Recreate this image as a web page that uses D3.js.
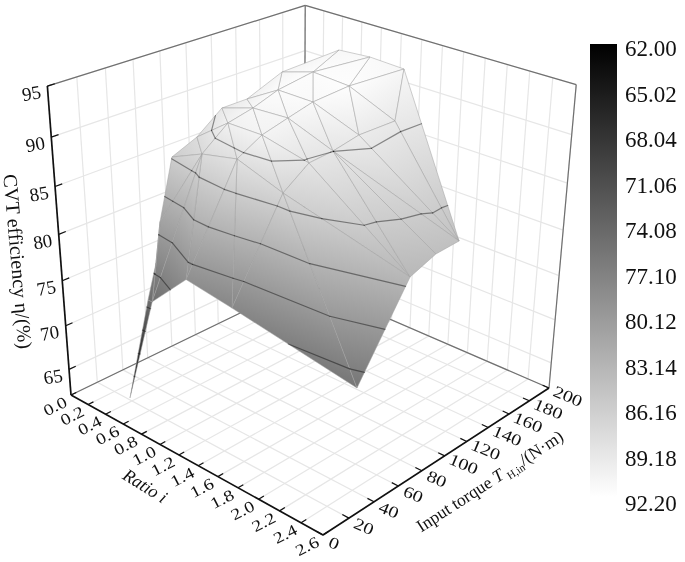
<!DOCTYPE html>
<html>
<head>
<meta charset="utf-8">
<script src="https://cdnjs.cloudflare.com/ajax/libs/d3/7.8.5/d3.min.js"></script>
<style>
  body { margin: 0; background: #fff; }
  svg { display: block; filter: blur(0.45px); }
  text { font-family: "Liberation Serif", serif; fill: #111; }
</style>
</head>
<body>
<div id="graph"></div>
<script>
// axis ticks and legend labels
var ratioTicks = [0, 0.2, 0.4, 0.6, 0.8, 1.0, 1.2, 1.4, 1.6, 1.8, 2.0, 2.2, 2.4, 2.6];
var torqueTicks = [0, 20, 40, 60, 80, 100, 120, 140, 160, 180, 200];
var etaTicks = [65, 70, 75, 80, 85, 90, 95];
var legendValues = [62.00, 65.02, 68.04, 71.06, 74.08, 77.10, 80.12, 83.14, 86.16, 89.18, 92.20];
var contourLevels = [65.02, 68.04, 71.06, 74.08, 77.10, 80.12, 83.14, 86.16, 89.18];

var ratio = [0.377, 0.677, 0.720, 0.609, 0.502, 0.370, 1.064, 0.452, 0.684, 0.389, 0.759, 1.502,
  1.030, 0.502, 0.775, 1.131, 0.731, 0.367, 1.499, 1.064, 1.487, 0.664, 1.041, 1.486,
  0.377, 1.074, 2.654, 1.492, 0.704, 1.476, 1.017, 2.619, 2.603, 2.615];
var torque = [20.2, 17.7, 17.8, 29.3, 40.7, 60.5, 19.4, 74.1, 60.9, 98.6, 75.5, 20.4,
  61.6, 110.1, 93.8, 72.9, 117.3, 149.8, 59.5, 98.5, 80.4, 151.9, 120.5, 99.6,
  199.2, 147.9, 19.2, 120.1, 198.9, 152.2, 202.0, 61.1, 82.9, 100.7];
var efficiency = [62.2, 75.0, 75.0, 77.9, 81.1, 86.3, 78.9, 88.0, 87.8, 89.6, 90.5, 78.0,
  88.6, 90.4, 91.2, 90.8, 91.8, 91.0, 87.2, 91.0, 89.0, 91.9, 91.5, 89.2,
  91.3, 92.0, 76.0, 89.8, 91.6, 89.6, 91.2, 83.8, 84.6, 84.85];

// triangulation of the measured points
var triangles = [
  [0, 1, 2], [1, 2, 3], [2, 3, 4], [2, 4, 8], [4, 5, 8], [5, 7, 8], [2, 6, 8], [6, 8, 12],
  [6, 11, 12], [8, 10, 12], [7, 8, 10], [7, 9, 10], [9, 10, 14], [9, 13, 14], [13, 14, 16],
  [13, 16, 17], [16, 17, 21], [17, 21, 24], [21, 24, 28], [21, 25, 28], [25, 28, 30],
  [21, 22, 25], [16, 21, 22], [16, 19, 22], [14, 16, 19], [14, 15, 19], [10, 14, 15],
  [10, 12, 15], [12, 15, 18], [11, 12, 18], [11, 18, 26], [18, 26, 31], [18, 20, 31],
  [15, 18, 20], [15, 19, 20], [19, 20, 23], [19, 22, 23], [22, 23, 27], [22, 25, 27],
  [25, 27, 29], [25, 29, 30], [29, 30, 33], [27, 29, 33], [23, 27, 33], [23, 32, 33],
  [23, 31, 32], [20, 23, 31]
];

var svg = d3.select("#graph").append("svg")
  .attr("width", 685)
  .attr("height", 562);

// scales into the unit cube, the camera takes it to the page
var iScale = d3.scaleLinear().domain([0, 2.6]).range([0, 1]);
var tScale = d3.scaleLinear().domain([0, 200]).range([0, 1]);
var zScale = d3.scaleLinear().domain([62, 95]).range([0, 1]);
var gray = d3.scaleLinear().domain([62, 92.2]).range(["#000", "#fff"]).clamp(true);

var camera = [
  [211.1315, 277.1672, -28.24554, 71],
  [72.30762, -72.0291, -317.307, 395],
  [-0.1265278, 0.1452869, -0.09716024, 1]
];

function project(i, t, z) {
  var u = iScale(i), v = tScale(t), w = zScale(z);
  var p = camera.map(function(r) { return r[0] * u + r[1] * v + r[2] * w + r[3]; });
  return [p[0] / p[2], p[1] / p[2]];
}

var line3d = d3.line();

function segment(a, b) {
  return line3d([project(a[0], a[1], a[2]), project(b[0], b[1], b[2])]);
}

// walls and floor
var gridLines = [];
torqueTicks.forEach(function(t) {
  gridLines.push([[0, t, 62], [2.6, t, 62]]);
  gridLines.push([[0, t, 62], [0, t, 95]]);
});
ratioTicks.forEach(function(i) {
  gridLines.push([[i, 0, 62], [i, 200, 62]]);
  gridLines.push([[i, 200, 62], [i, 200, 95]]);
});
etaTicks.forEach(function(z) {
  gridLines.push([[0, 0, z], [0, 200, z]]);
  gridLines.push([[0, 200, z], [2.6, 200, z]]);
});

svg.append("g").selectAll("path")
  .data(gridLines)
  .enter().append("path")
  .attr("d", function(d) { return segment(d[0], d[1]); })
  .attr("fill", "none")
  .attr("stroke", "#e6e6e6")
  .attr("stroke-width", 1.2);

var boxEdges = [
  [[0, 0, 62], [0, 200, 62]], [[0, 200, 62], [2.6, 200, 62]], [[0, 200, 62], [0, 200, 95]],
  [[0, 0, 95], [0, 200, 95]], [[0, 200, 95], [2.6, 200, 95]], [[2.6, 200, 62], [2.6, 200, 95]]
];

svg.append("g").selectAll("path")
  .data(boxEdges)
  .enter().append("path")
  .attr("d", function(d) { return segment(d[0], d[1]); })
  .attr("fill", "none")
  .attr("stroke", "#707070")
  .attr("stroke-width", 1.2);

// the surface, far triangles first
var verts = ratio.map(function(r, k) {
  var p = project(r, torque[k], efficiency[k]);
  return { x: p[0], y: p[1], eta: efficiency[k], depth: iScale(r) - tScale(torque[k]) };
});

var order = triangles.slice().sort(function(a, b) {
  return d3.sum(a, function(n) { return verts[n].depth; }) - d3.sum(b, function(n) { return verts[n].depth; });
});

var defs = svg.append("defs");
var surface = svg.append("g");

order.forEach(function(tri, k) {
  var p = tri.map(function(n) { return verts[n]; });
  // eta as a plane over the page, the gradient runs along its slope
  var ux = p[1].x - p[0].x, uy = p[1].y - p[0].y, ue = p[1].eta - p[0].eta;
  var vx = p[2].x - p[0].x, vy = p[2].y - p[0].y, ve = p[2].eta - p[0].eta;
  var det = ux * vy - uy * vx;
  var gx = (ue * vy - ve * uy) / det, gy = (ve * ux - ue * vx) / det;
  var lo = d3.least(p, function(d) { return d.eta; });
  var hi = d3.greatest(p, function(d) { return d.eta; });
  var len = gx * gx + gy * gy || 1;
  var span = hi.eta - lo.eta;
  var grad = defs.append("linearGradient")
    .attr("id", "tri" + k)
    .attr("gradientUnits", "userSpaceOnUse")
    .attr("x1", lo.x).attr("y1", lo.y)
    .attr("x2", lo.x + gx * span / len).attr("y2", lo.y + gy * span / len);
  grad.append("stop").attr("offset", 0).attr("stop-color", gray(lo.eta));
  grad.append("stop").attr("offset", 1).attr("stop-color", gray(hi.eta));
  surface.append("path")
    .attr("d", line3d(p.map(function(d) { return [d.x, d.y]; })) + "Z")
    .attr("fill", "url(#tri" + k + ")")
    .attr("stroke", "rgba(160,160,160,0.5)")
    .attr("stroke-width", 1)
    .attr("stroke-linejoin", "round");
});

// contour lines cut out of each triangle
contourLevels.forEach(function(level) {
  triangles.forEach(function(tri) {
    var hits = [];
    [[0, 1], [1, 2], [2, 0]].forEach(function(e) {
      var a = verts[tri[e[0]]], b = verts[tri[e[1]]];
      if ((a.eta < level) !== (b.eta < level)) {
        var f = (level - a.eta) / (b.eta - a.eta);
        hits.push([a.x + f * (b.x - a.x), a.y + f * (b.y - a.y)]);
      }
    });
    if (hits.length === 2) {
      surface.append("path")
        .attr("d", line3d(hits))
        .attr("fill", "none")
        .attr("stroke", "rgba(0,0,0,0.42)")
        .attr("stroke-width", 1.2)
        .attr("stroke-linecap", "round");
    }
  });
});

// axes
var axes = svg.append("g").attr("stroke", "#111").attr("fill", "none");
axes.append("path").attr("d", segment([0, 0, 62], [0, 0, 95])).attr("stroke-width", 1.7);
axes.append("path").attr("d", segment([0, 0, 62], [2.6, 0, 62])).attr("stroke-width", 1.7);
axes.append("path").attr("d", segment([2.6, 0, 62], [2.6, 200, 62])).attr("stroke-width", 1.7);

etaTicks.forEach(function(z) {
  axes.append("path").attr("d", segment([0, 0, z], [0, 5, z])).attr("stroke-width", 1.2);
  var p = project(0, 0, z);
  svg.append("text")
    .attr("transform", "translate(" + (p[0] - 16) + "," + (p[1] + 7) + ") rotate(-10)")
    .attr("text-anchor", "middle")
    .attr("dy", "0.35em")
    .style("font-size", "19px")
    .text(z);
});

// labels on the floor look squashed, they lie in its plane
ratioTicks.forEach(function(i) {
  axes.append("path").attr("d", segment([i, 0, 62], [i, 4, 62])).attr("stroke-width", 1.2);
  var p = project(i, 0, 62);
  svg.append("text")
    .attr("transform", "translate(" + (p[0] - 16) + "," + (p[1] + 11) + ") rotate(-27) scale(1,0.82)")
    .attr("text-anchor", "middle")
    .attr("dy", "0.35em")
    .style("font-size", "19.5px")
    .text(i.toFixed(1));
});

torqueTicks.forEach(function(t) {
  axes.append("path").attr("d", segment([2.6, t, 62], [2.54, t, 62])).attr("stroke-width", 1.2);
  var p = project(2.6, t, 62);
  var off = t === 0 ? 11 : t < 100 ? 15 : 19;
  svg.append("text")
    .attr("transform", "translate(" + (p[0] + off) + "," + (p[1] + 8) + ") rotate(23) scale(1,0.82)")
    .attr("text-anchor", "middle")
    .attr("dy", "0.35em")
    .style("font-size", "20px")
    .text(t);
});

// axis titles
svg.append("text")
  .attr("transform", "translate(11,262) rotate(85)")
  .attr("text-anchor", "middle")
  .style("font-size", "20px")
  .text("CVT efficiency \u03b7/(%)");

svg.append("text")
  .attr("transform", "translate(142,491) rotate(32)")
  .attr("text-anchor", "middle")
  .style("font-size", "18px")
  .style("font-style", "italic")
  .text("Ratio i");

var torqueTitle = svg.append("text")
  .attr("transform", "translate(493,486) rotate(-33)")
  .attr("text-anchor", "middle")
  .style("font-size", "17.5px");
torqueTitle.append("tspan").text("Input torque ");
torqueTitle.append("tspan").style("font-style", "italic").text("T");
torqueTitle.append("tspan").attr("dx", 3).attr("dy", 4).style("font-size", "11px").text("H,in");
torqueTitle.append("tspan").attr("dy", -4).text("/(N\u00b7m)");

// colour bar
var barY = d3.scaleLinear().domain([62, 92.2]).range([44, 497]);
var labelY = d3.scaleLinear().domain([62, 92.2]).range([48, 503]);

var barGrad = defs.append("linearGradient")
  .attr("id", "bar")
  .attr("x1", 0).attr("x2", 0).attr("y1", 0).attr("y2", 1);
barGrad.append("stop").attr("offset", 0).attr("stop-color", gray(62));
barGrad.append("stop").attr("offset", 1).attr("stop-color", gray(92.2));

svg.append("rect")
  .attr("x", 590)
  .attr("y", barY(62))
  .attr("width", 27)
  .attr("height", barY(92.2) - barY(62))
  .attr("fill", "url(#bar)");

svg.selectAll(".legend")
  .data(legendValues)
  .enter().append("text")
  .attr("class", "legend")
  .attr("x", 625)
  .attr("y", function(d) { return labelY(d); })
  .attr("dy", "0.35em")
  .style("font-size", "23px")
  .text(function(d) { return d.toFixed(2); });
</script>
</body>
</html>
